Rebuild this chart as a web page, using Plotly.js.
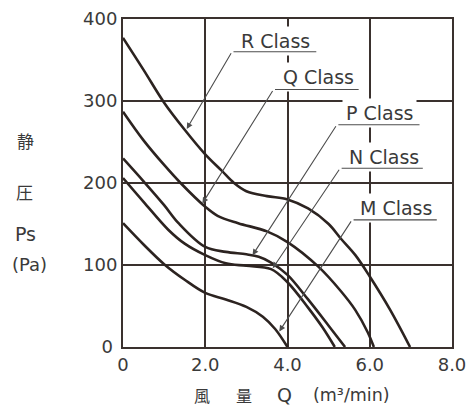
<!DOCTYPE html>
<html>
<head>
<meta charset="utf-8">
<script src="https://cdn.plot.ly/plotly-3.0.1.min.js"></script>
<style>html,body{margin:0;padding:0;background:#fff;}</style>
</head>
<body>
<div id="chart" style="width:471px;height:407px;"></div>
<script>
// ---- data ----
const classNames = ['R Class', 'Q Class', 'P Class', 'N Class', 'M Class'];

const rFlow     = [0, 0.5, 1.0, 1.5, 2.0, 2.4, 2.7, 3.0, 3.5, 4.0, 4.5, 5.0, 5.3, 5.65, 6.0, 6.5, 6.98];
const rPressure = [377, 338, 298, 265, 235, 215, 200, 190, 184, 180, 169, 150, 132, 112, 86, 45, 0];

const qFlow     = [0, 0.5, 1.0, 1.4, 2.0, 2.3, 2.8, 3.5, 4.0, 4.75, 5.3, 5.65, 5.95, 6.1];
const qPressure = [287, 252, 222, 200, 171, 160, 151, 141, 128, 98, 68, 45, 18, 0];

const pFlow     = [0, 0.5, 1.0, 1.35, 2.0, 2.5, 3.0, 3.3, 3.6, 4.0, 4.5, 5.0, 5.4];
const pPressure = [230, 202, 173, 151, 122, 116, 113, 110, 103, 88, 58, 26, 0];

const nFlow     = [0, 0.5, 1.1, 1.5, 2.0, 2.5, 3.0, 3.6, 4.0, 4.5, 4.85, 5.15];
const nPressure = [206, 177, 143, 126, 112, 102, 99, 95, 79, 48, 24, 0];

const mFlow     = [0, 0.5, 1.0, 1.5, 2.0, 2.5, 3.0, 3.4, 3.7, 4.0];
const mPressure = [151, 125, 101, 82, 66, 58, 49, 37, 22, 0];

const xTickVals = [0, 2, 4, 6, 8];
const xTickText = ['0', '2.0', '4.0', '6.0', '8.0'];
const yTickVals = [0, 100, 200, 300, 400];
const yTickText = ['0\u2005', '100', '200', '300', '400'];

// ---- styling / label placement ----
const ink = '#2c2320';
const gridInk = '#3a312e';
const textInk = '#3a3a3a';
const leaderInk = '#4d4d4d';
const latin = 'DejaVu Sans, Liberation Sans, sans-serif';
const cjk = 'Noto Sans CJK JP, Noto Sans CJK SC, sans-serif';

const seriesFlow = [rFlow, qFlow, pFlow, nFlow, mFlow];
const seriesPressure = [rPressure, qPressure, pPressure, nPressure, mPressure];

// label text centre, underline (left,right,y) and arrow tip, in axis units
const labelPlace = [
  {tx: 3.70, ty: 373, ul: 2.65, ur: 4.70, uy: 360, hx: 1.55, hy: 266},
  {tx: 4.75, ty: 329, ul: 3.66, ur: 5.73, uy: 314, hx: 1.93, hy: 175},
  {tx: 6.23, ty: 285, ul: 5.20, ur: 7.21, uy: 271, hx: 3.15, hy: 112},
  {tx: 6.35, ty: 232, ul: 5.28, ur: 7.29, uy: 218, hx: 3.64, hy: 96},
  {tx: 6.64, ty: 169, ul: 5.57, ur: 7.63, uy: 155, hx: 3.80, hy: 19}
];

const traces = classNames.map((name, i) => ({
  type: 'scatter',
  mode: 'lines',
  name: name,
  x: seriesFlow[i],
  y: seriesPressure[i],
  line: {color: ink, width: 2.6, shape: 'spline', smoothing: 1},
  hoverinfo: 'skip'
}));

const annotations = [];
classNames.forEach((name, i) => {
  const p = labelPlace[i];
  annotations.push({
    x: p.tx, y: p.ty, xref: 'x', yref: 'y',
    text: name, showarrow: false,
    xanchor: 'center', yanchor: 'middle',
    bgcolor: '#ffffff', borderpad: 3,
    font: {family: latin, size: 19, color: textInk}
  });
});
classNames.forEach((name, i) => {
  const p = labelPlace[i];
  // underline
  annotations.push({
    x: p.ur, y: p.uy, xref: 'x', yref: 'y',
    ax: p.ul, ay: p.uy, axref: 'x', ayref: 'y',
    text: '', showarrow: true, arrowhead: 0,
    arrowwidth: 1.1, arrowcolor: leaderInk, standoff: 0
  });
  // leader with arrow head
  annotations.push({
    x: p.hx, y: p.hy, xref: 'x', yref: 'y',
    ax: p.ul, ay: p.uy, axref: 'x', ayref: 'y',
    text: '', showarrow: true, arrowhead: 2, arrowsize: 1.1,
    arrowwidth: 1.1, arrowcolor: leaderInk, standoff: 0
  });
});

// axis titles (placed as paper annotations to mimic the spaced layout)
const yTitleParts = [
  {t: '静', x: -0.297, y: 0.631, f: cjk, s: 17},
  {t: '圧', x: -0.300, y: 0.475, f: cjk, s: 17},
  {t: 'Ps', x: -0.297, y: 0.345, f: latin, s: 19},
  {t: '(Pa)', x: -0.285, y: 0.252, f: latin, s: 18}
];
const xTitleParts = [
  {t: '風', x: 0.240, f: cjk, s: 16},
  {t: '量', x: 0.369, f: cjk, s: 16},
  {t: 'Q', x: 0.492, f: latin, s: 19},
  {t: '(m³/min)', x: 0.694, f: latin, s: 17.5}
];
yTitleParts.forEach(p => annotations.push({
  x: p.x, y: p.y, xref: 'paper', yref: 'paper', text: p.t, showarrow: false,
  xanchor: 'center', yanchor: 'middle', font: {family: p.f, size: p.s, color: textInk}
}));
xTitleParts.forEach(p => annotations.push({
  x: p.x, y: -0.146, xref: 'paper', yref: 'paper', text: p.t, showarrow: false,
  xanchor: 'center', yanchor: 'middle', borderpad: 0,
  font: {family: p.f, size: p.s, color: textInk}
}));

const layout = {
  width: 471, height: 407,
  margin: {l: 123, r: 19, t: 19, b: 60, pad: 0},
  paper_bgcolor: '#ffffff', plot_bgcolor: '#ffffff',
  showlegend: false,
  xaxis: {
    range: [0, 8], tickvals: xTickVals, ticktext: xTickText,
    showgrid: true, gridcolor: gridInk, gridwidth: 2,
    showline: true, mirror: true, linecolor: gridInk, linewidth: 2,
    zeroline: false, ticks: '', fixedrange: true,
    tickfont: {family: latin, size: 18, color: textInk}
  },
  yaxis: {
    range: [0, 400], tickvals: yTickVals, ticktext: yTickText,
    showgrid: true, gridcolor: gridInk, gridwidth: 2,
    showline: true, mirror: true, linecolor: gridInk, linewidth: 2,
    zeroline: false, ticks: 'inside', ticklen: 4, tickcolor: gridInk, tickwidth: 1.5,
    fixedrange: true,
    tickfont: {family: latin, size: 18, color: textInk}
  },
  annotations: annotations
};

Plotly.newPlot('chart', traces, layout, {staticPlot: true, displayModeBar: false});
</script>
</body>
</html>
